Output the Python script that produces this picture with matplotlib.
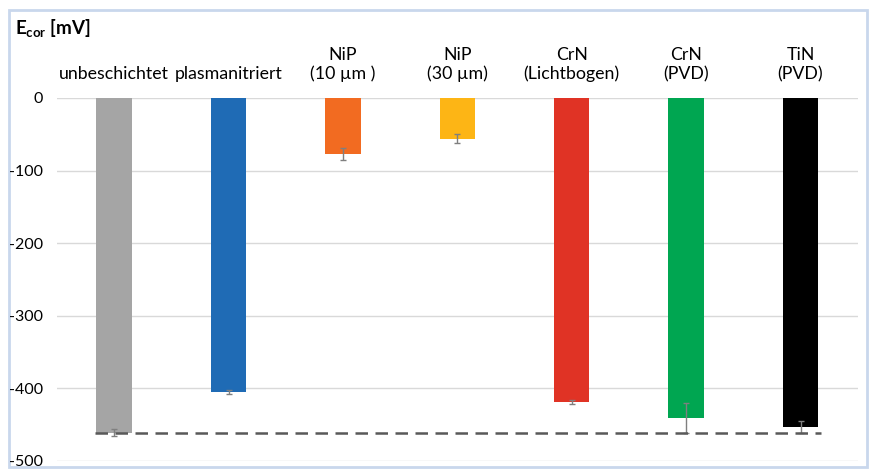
import matplotlib
matplotlib.use("Agg")
import matplotlib.pyplot as plt
from matplotlib.patches import Rectangle

plt.rcParams["font.family"] = ["Lato", "DejaVu Sans"]
plt.rcParams["mathtext.fontset"] = "custom"
plt.rcParams["mathtext.rm"] = "Lato"
plt.rcParams["mathtext.bf"] = "Lato:bold"

# corrosion potential per surface treatment
categories = ["unbeschichtet", "plasmanitriert", "NiP\n(10 µm )", "NiP\n(30 µm)",
              "CrN\n(Lichtbogen)", "CrN\n(PVD)", "TiN\n(PVD)"]
e_cor = [-461, -405, -77, -56, -419, -441, -453]
e_err = [5, 3, 8, 6, 3, 21, 8]
colors = ["#A5A5A5", "#1F6BB5", "#F26B21", "#FDB515", "#E03325", "#00A651", "#000000"]
reference_level = -461
y_ticks = [0, -100, -200, -300, -400, -500]

fig = plt.figure(figsize=(8.78, 4.69), dpi=100)
fig.patches.append(Rectangle((0.0103, 0.004), 0.977, 0.974, transform=fig.transFigure,
                             fill=False, edgecolor="#C9D7EC", linewidth=2, zorder=-1))

ax = fig.add_axes([0.0649, 0.0171, 0.912, 0.774])
ax.patch.set_alpha(0)
x = list(range(len(categories)))
ax.bar(x, e_cor, width=0.31, color=colors, zorder=2)
ax.errorbar(x, e_cor, yerr=e_err, fmt="none", ecolor="#7F7F7F", elinewidth=1,
            capsize=2.5, capthick=1, zorder=3)
ax.hlines(reference_level, -0.17, 6.18, colors="#595959", linestyles=(0, (5, 3)),
          linewidth=1.8, zorder=4)

ax.set_xlim(-0.5, len(categories) - 0.5)
ax.set_ylim(-500, 0)
ax.set_yticks(y_ticks)
ax.set_yticklabels([str(v) for v in y_ticks], fontsize=11.5)
ax.grid(axis="y", color="#D9D9D9", linewidth=1, zorder=0)
ax.set_axisbelow(True)

ax.set_xticks(x)
ax.set_xticklabels(categories, fontsize=12.8, va="bottom", linespacing=1.2)
ax.tick_params(axis="x", bottom=False, labelbottom=False, top=False, labeltop=True, pad=8)
ax.tick_params(axis="y", length=0, pad=10)
for side in ["top", "bottom", "left", "right"]:
    ax.spines[side].set_visible(False)

fig.text(0.017, 0.94, r"$\mathbf{E_{cor}}$ [mV]", fontsize=13.5, fontweight="bold",
         va="center", ha="left")

fig.savefig("out.png", dpi=100)
